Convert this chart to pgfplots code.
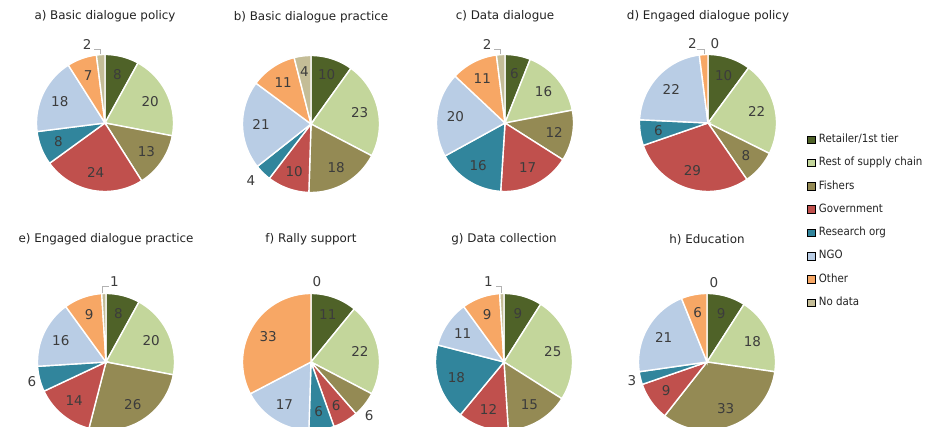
\documentclass[border=0pt]{standalone}
\usepackage{pgfplots}
\pgfplotsset{compat=1.18}
\usepackage{fontspec}
\setmainfont{DejaVu Sans}
\newfontfamily\legfont{DejaVu Sans Condensed}

\definecolor{c1}{HTML}{4F6228}
\definecolor{c2}{HTML}{C3D69B}
\definecolor{c3}{HTML}{948A54}
\definecolor{c4}{HTML}{C0504D}
\definecolor{c5}{HTML}{31859C}
\definecolor{c6}{HTML}{B9CDE5}
\definecolor{c7}{HTML}{F7A765}
\definecolor{c8}{HTML}{C4BD97}
\definecolor{labcol}{HTML}{3C3C3C}
\definecolor{titlecol}{HTML}{222222}

\pgfplotsset{
  pieaxis/.style={hide axis, scale only axis, width=137pt, height=137pt,
    xmin=-1, xmax=1, ymin=-1, ymax=1, clip=false, anchor=center,
    title style={font=\fontsize{11.9}{14}\selectfont, text=titlecol, anchor=center}},
  row1/.style={title style={at={(0.5,1.234)}}},
  row2/.style={title style={at={(0.5,1.350)}}},
}
\tikzset{
  lab/.style={font=\fontsize{13.5}{15}\selectfont, text=labcol, inner sep=0pt},
  leader/.style={draw=gray!60, line width=0.6pt},
}

% #1: list of value/labelradius/labelangle (999 = middle of the wedge)
\newcommand{\pie}[1]{%
  \gdef\pietotal{0}%
  \foreach \v/\lr/\la in {#1}{\pgfmathparse{\pietotal+\v}\xdef\pietotal{\pgfmathresult}}%
  \gdef\piecum{0}%
  \foreach \v/\lr/\la [count=\i] in {#1}{%
    \pgfmathsetmacro\fa{\piecum/\pietotal}%
    \pgfmathsetmacro\fb{(\piecum+\v)/\pietotal}%
    \pgfmathsetmacro\a{90-360*\fa}%
    \pgfmathsetmacro\b{90-360*\fb}%
    \pgfmathsetmacro\m{\la>900 ? (\a+\b)/2 : \la}%
    \pgfmathsetmacro\lx{\lr*cos(\m)}%
    \pgfmathsetmacro\ly{\lr*sin(\m)}%
    \ifdim\v pt>0pt
      \edef\temp{\noexpand\addplot[fill=c\i, draw=white, line width=1.4pt, domain=\b:\a, samples=60] ({cos(x)},{sin(x)}) -- (0,0) -- cycle;}%
      \temp
    \fi
    \edef\temp{\noexpand\node[lab] at (\lx,\ly) {\v};}%
    \temp
    \pgfmathparse{\piecum+\v}\xdef\piecum{\pgfmathresult}%
  }%
}

\begin{document}
\begin{tikzpicture}
\useasboundingbox (0,0) rectangle (933pt,427pt);
\clip (0,0) rectangle (933pt,427pt);

% a) Basic dialogue policy
\begin{axis}[pieaxis, row1, at={(105pt,304pt)}, title={a) Basic dialogue policy}]
\pie{8/0.73/999, 20/0.73/999, 13/0.73/999, 24/0.73/999, 8/0.73/999, 18/0.73/999, 7/0.73/999, 2/1.17/102.8}
\draw[leader] (-0.07,1.0) |- (-0.16,1.08);
\end{axis}

% b) Basic dialogue practice
\begin{axis}[pieaxis, row1, at={(311pt,303pt)}, title={b) Basic dialogue practice}]
\pie{10/0.75/999, 23/0.73/999, 18/0.73/999, 10/0.73/999, 4/1.20/223.1, 21/0.73/999, 11/0.73/999, 4/0.77/999}
\end{axis}

% c) Data dialogue
\begin{axis}[pieaxis, row1, at={(505pt,304pt)}, title={c) Data dialogue}]
\pie{6/0.73/999, 16/0.73/999, 12/0.73/999, 17/0.73/999, 16/0.73/999, 20/0.73/999, 11/0.73/999, 2/1.17/102.8}
\draw[leader] (-0.07,1.0) |- (-0.16,1.08);
\end{axis}

% d) Engaged dialogue policy
\begin{axis}[pieaxis, row1, at={(708pt,304pt)}, title={d) Engaged dialogue policy}]
\pie{10/0.73/999, 22/0.73/999, 8/0.73/999, 29/0.73/999, 6/0.73/999, 22/0.73/999, 2/1.19/101.1, 0/1.17/85.1}
\draw[leader] (-0.06,1.0) |- (-0.16,1.07);
\end{axis}

% e) Engaged dialogue practice
\begin{axis}[pieaxis, row2, at={(106pt,65pt)}, title={e) Engaged dialogue practice}]
\pie{8/0.73/999, 20/0.73/999, 26/0.73/999, 14/0.73/999, 6/1.12/195, 16/0.73/999, 9/0.73/999, 1/1.18/84.1}
\draw[leader] (-0.06,1.0) |- (0.04,1.10);
\end{axis}

% f) Rally support
\begin{axis}[pieaxis, row2, at={(311pt,65pt)}, title={f) Rally support}]
\pie{11/0.73/999, 22/0.73/999, 6/1.15/-42.4, 6/0.73/999, 6/0.73/999, 17/0.73/999, 33/0.73/999, 0/1.17/85.7}
\end{axis}

% g) Data collection
\begin{axis}[pieaxis, row2, at={(504pt,65pt)}, title={g) Data collection}]
\pie{9/0.73/999, 25/0.73/999, 15/0.73/999, 12/0.73/999, 18/0.73/999, 11/0.73/999, 9/0.73/999, 1/1.19/101.1}
\draw[leader] (-0.04,1.0) |- (-0.12,1.10);
\end{axis}

% h) Education
\begin{axis}[pieaxis, row2, at={(707pt,65pt)}, title={h) Education}]
\pie{9/0.73/999, 18/0.73/999, 33/0.73/999, 9/0.73/999, 3/1.13/194.2, 21/0.73/999, 6/0.73/999, 0/1.17/85.1}
\end{axis}

% Legend
\begin{axis}[hide axis, scale only axis, width=10pt, height=10pt,
  xmin=0, xmax=1, ymin=0, ymax=1, anchor=north west, at={(807pt,293pt)},
  legend image code/.code={\fill[#1] (0pt,-0.75pt) rectangle (7.5pt,6.75pt);},
  legend style={at={(0,1)}, anchor=north west, draw=none, fill=none,
    inner sep=0pt, outer sep=0pt, column sep=4pt, row sep=12.8pt,
    font=\legfont\fontsize{11.4}{13}\selectfont, text=titlecol,
    nodes={inner sep=0pt, text height=8.5pt, text depth=2pt, anchor=base west}},
  legend cell align=left]
\addlegendimage{fill=c1}\addlegendentry{Retailer/1st tier}
\addlegendimage{fill=c2}\addlegendentry{Rest of supply chain}
\addlegendimage{fill=c3}\addlegendentry{Fishers}
\addlegendimage{fill=c4}\addlegendentry{Government}
\addlegendimage{fill=c5}\addlegendentry{Research org}
\addlegendimage{fill=c6}\addlegendentry{NGO}
\addlegendimage{fill=c7}\addlegendentry{Other}
\addlegendimage{fill=c8}\addlegendentry{No data}
\end{axis}
\end{tikzpicture}
\end{document}
